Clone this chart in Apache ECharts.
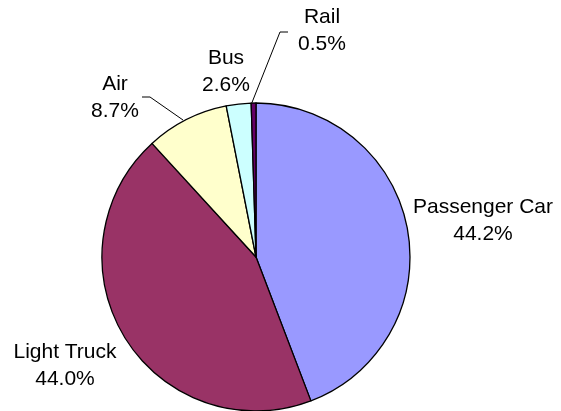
<!DOCTYPE html>
<html>
<head>
<meta charset="utf-8">
<script src="https://cdn.jsdelivr.net/npm/echarts@6/dist/echarts.min.js"></script>
<style>
html,body{margin:0;padding:0;background:#fff;}
#chart{width:561px;height:411px;}
</style>
</head>
<body>
<div id="chart"></div>
<script>
var categories = ['Passenger Car', 'Light Truck', 'Air', 'Bus', 'Rail'];
var shares = [44.2, 44.0, 8.7, 2.6, 0.5];
var colors = ['#9999FF', '#993366', '#FFFFCC', '#CCFFFF', '#660066'];

// label layout (style only)
var labelPos = [
  {x: 483, y: 221},
  {x: 65, y: 366},
  {x: 115, y: 98},
  {x: 226, y: 72},
  {x: 322, y: 31}
];
var leaderLines = [
  null,
  null,
  [[183, 120], [150, 97], [142, 97]],
  null,
  [[251, 105], [280, 32], [288, 32]]
];

var chart = echarts.init(document.getElementById('chart'), null, {renderer: 'canvas'});
var data = categories.map(function (c, i) {
  return {
    name: c,
    value: shares[i],
    itemStyle: {color: colors[i]},
    labelLine: {show: !!leaderLines[i]}
  };
});
chart.setOption({
  animation: false,
  backgroundColor: '#ffffff',
  series: [{
    type: 'pie',
    center: [256, 257],
    radius: [0, 154],
    startAngle: 90,
    clockwise: true,
    avoidLabelOverlap: false,
    data: data,
    itemStyle: {borderColor: '#000', borderWidth: 1.3},
    emphasis: {disabled: true},
    label: {
      show: true,
      position: 'outside',
      formatter: function (p) { return p.name + '\n' + p.value.toFixed(1) + '%'; },
      fontFamily: 'Liberation Sans, Arial, sans-serif',
      fontSize: 21,
      lineHeight: 27,
      color: '#000',
      align: 'center'
    },
    labelLine: {
      show: true,
      lineStyle: {color: '#000', width: 1}
    },
    labelLayout: function (params) {
      var i = params.dataIndex;
      var r = {x: labelPos[i].x, y: labelPos[i].y, align: 'center', verticalAlign: 'middle'};
      if (leaderLines[i]) r.labelLinePoints = leaderLines[i];
      return r;
    }
  }]
});
</script>
</body>
</html>
